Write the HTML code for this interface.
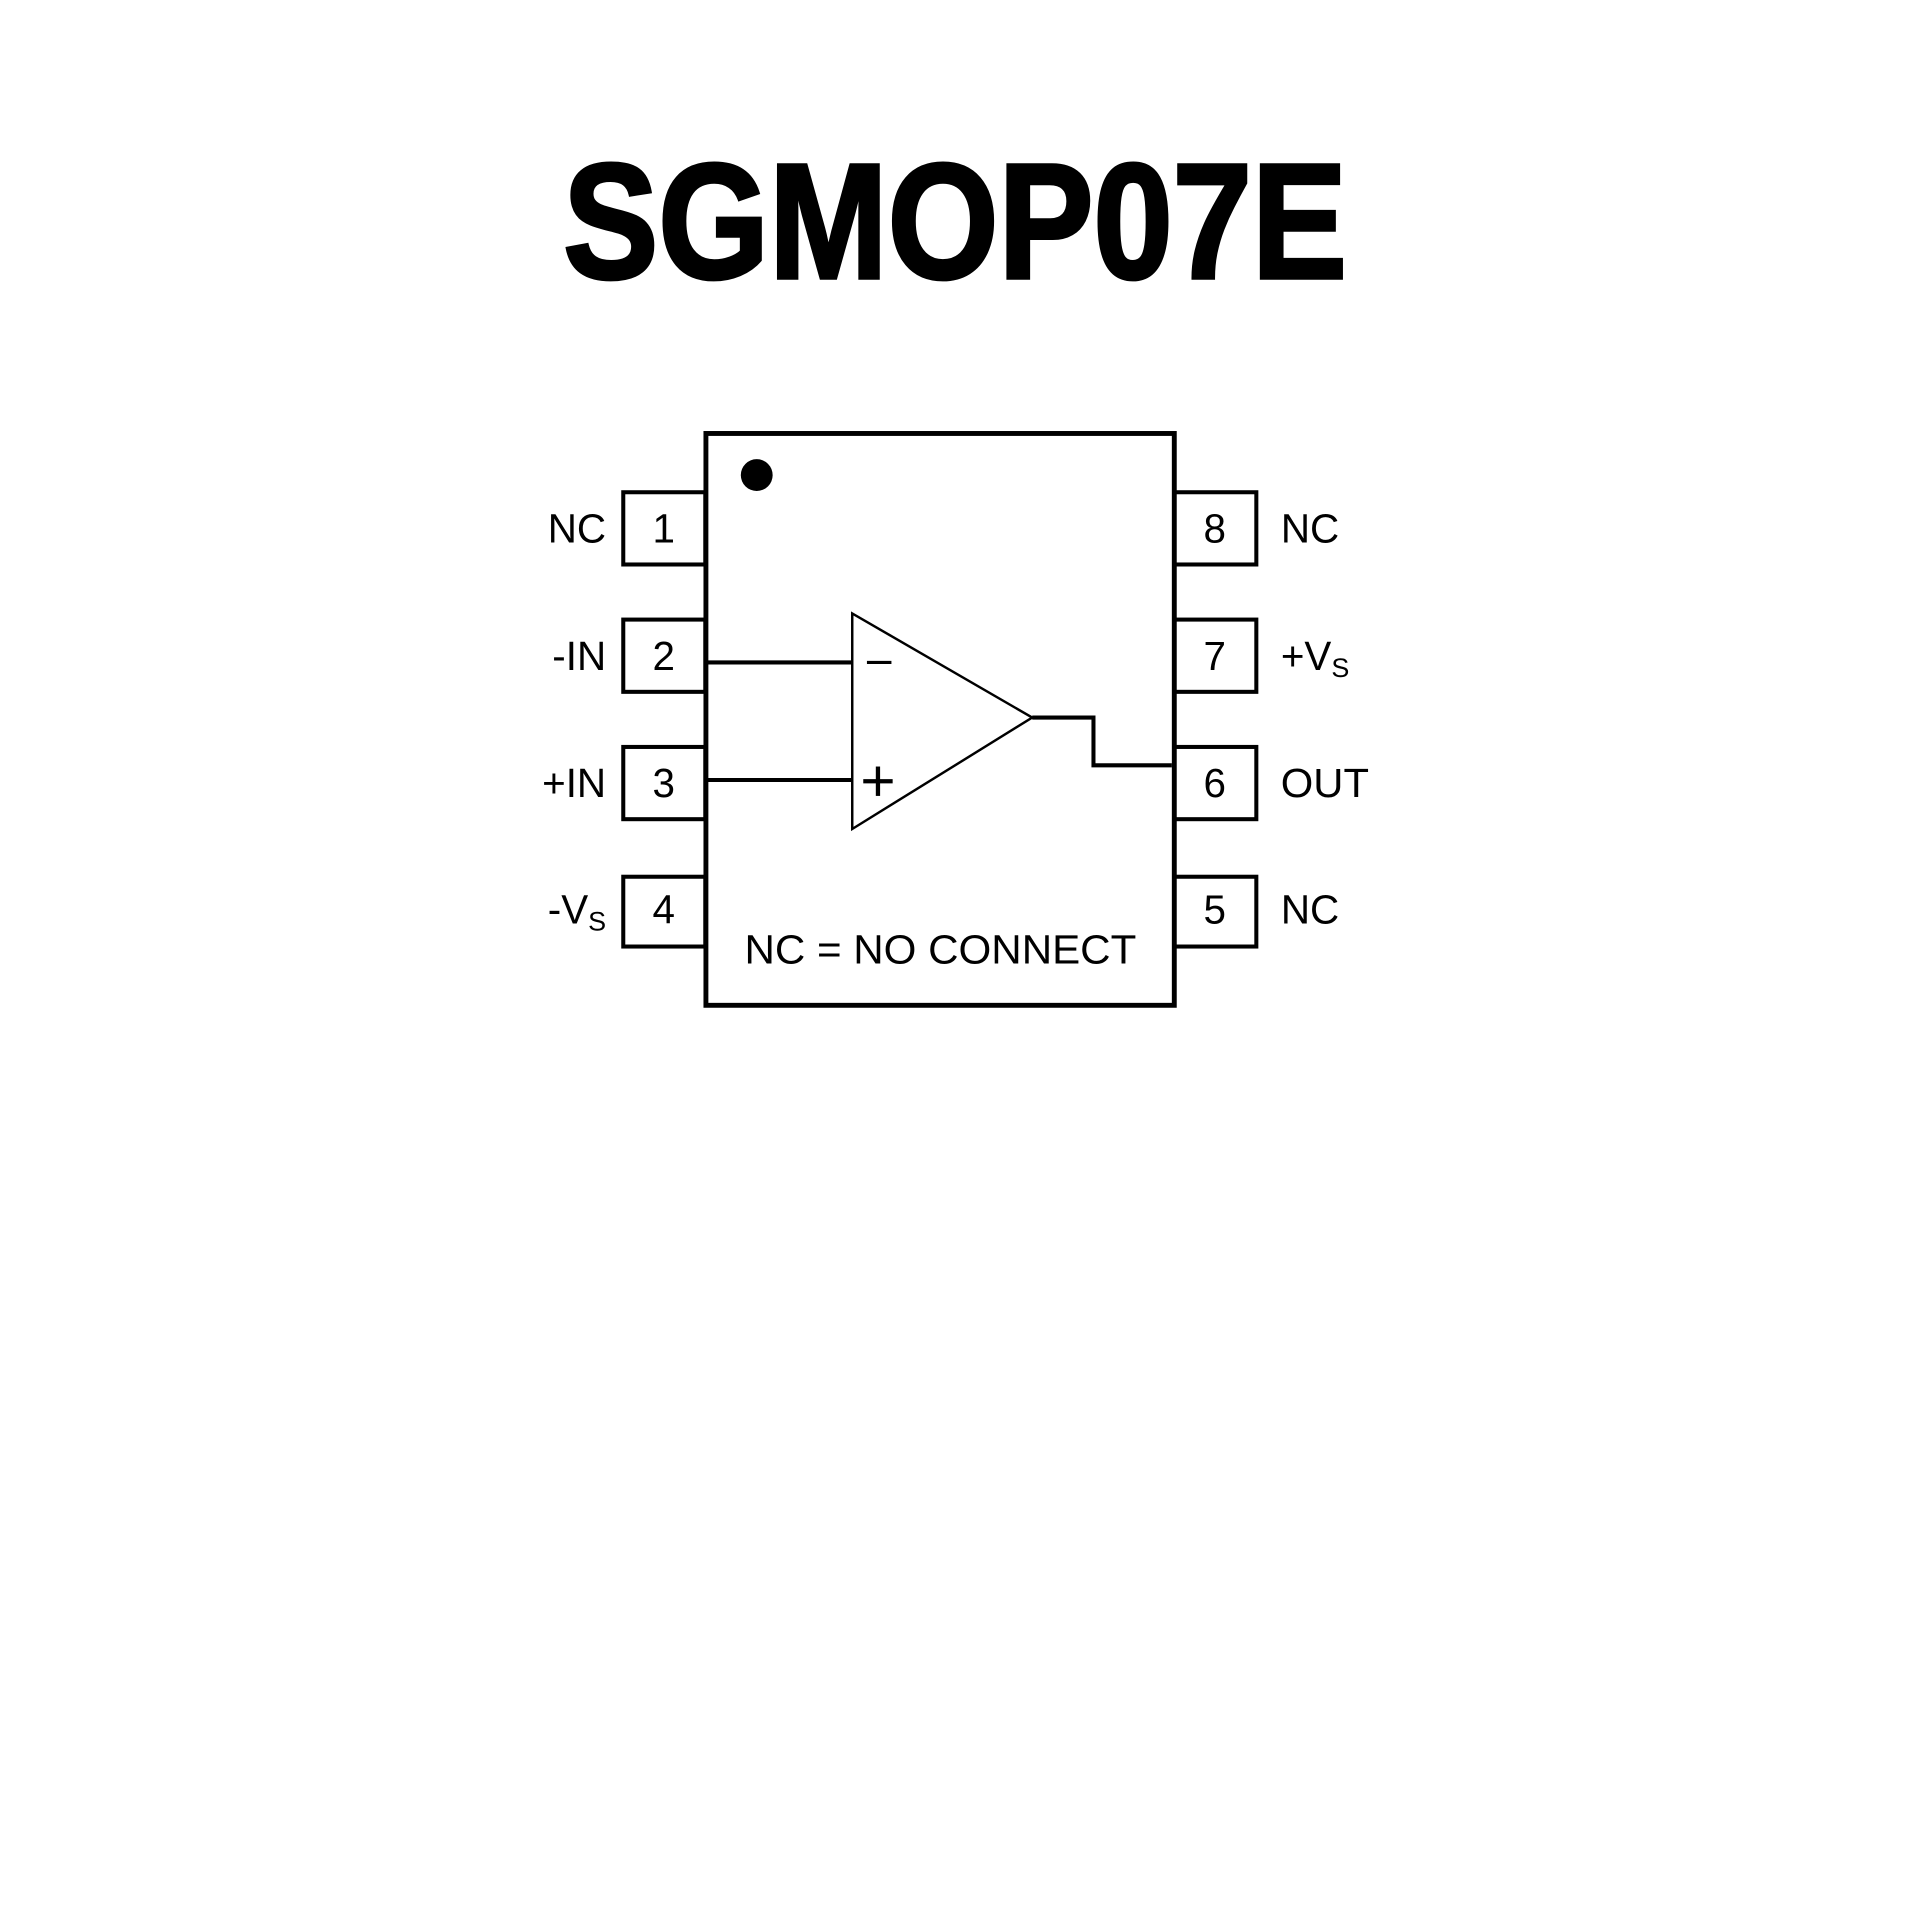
<!DOCTYPE html>
<html><head><style>html,body{margin:0;padding:0;background:#fff}svg{display:block}</style></head>
<body>
<svg width="1920" height="1920" viewBox="0 0 1568 1568" xmlns="http://www.w3.org/2000/svg">
<rect width="1568" height="1568" fill="#fff"/>
<text x="780" y="227" text-anchor="middle" font-family="'Liberation Sans',sans-serif" font-weight="bold" font-size="134" textLength="640" lengthAdjust="spacingAndGlyphs" stroke="#000" stroke-width="3">SGMOP07E</text>
<g fill="none" stroke="#000">
<rect x="576.5" y="354" width="382.5" height="467" stroke-width="4"/>
<g stroke-width="3.3">
<rect x="509" y="402" width="67" height="59"/>
<rect x="509" y="506" width="67" height="59"/>
<rect x="509" y="610" width="67" height="59"/>
<rect x="509" y="716" width="67" height="57"/>
<rect x="959" y="402" width="67" height="59"/>
<rect x="959" y="506" width="67" height="59"/>
<rect x="959" y="610" width="67" height="59"/>
<rect x="959" y="716" width="67" height="57"/>
<polygon points="696,501 696,677 843,586" stroke-width="2"/>
<line x1="578" y1="541" x2="696" y2="541"/>
<line x1="578" y1="637" x2="696" y2="637"/>
<polyline points="843,586 893,586 893,625 957,625"/>
<line x1="708" y1="541" x2="728" y2="541" stroke-width="2.5"/>
<line x1="705" y1="638" x2="729" y2="638" stroke-width="3.5"/>
<line x1="717" y1="626" x2="717" y2="650" stroke-width="3.5"/>
</g>
</g>
<circle cx="618" cy="388" r="13" fill="#000"/>
<g font-family="'Liberation Sans',sans-serif" font-size="33" fill="#000">
<g text-anchor="middle">
<text x="542" y="443">1</text><text x="542" y="547">2</text><text x="542" y="651">3</text><text x="542" y="754">4</text>
<text x="992" y="443">8</text><text x="992" y="547">7</text><text x="992" y="651">6</text><text x="992" y="754">5</text>
<text x="768" y="787" textLength="320" lengthAdjust="spacingAndGlyphs">NC = NO CONNECT</text>
</g>
<g text-anchor="end">
<text x="495" y="443">NC</text><text x="495" y="547">-IN</text><text x="495" y="651">+IN</text>
<text x="495" y="754">-V<tspan font-size="22" dy="6">S</tspan></text>
</g>
<text x="1046" y="443">NC</text>
<text x="1046" y="547">+V<tspan font-size="22" dy="6">S</tspan></text>
<text x="1046" y="651" textLength="72" lengthAdjust="spacingAndGlyphs">OUT</text>
<text x="1046" y="754">NC</text>
</g>
</svg>
</body></html>
